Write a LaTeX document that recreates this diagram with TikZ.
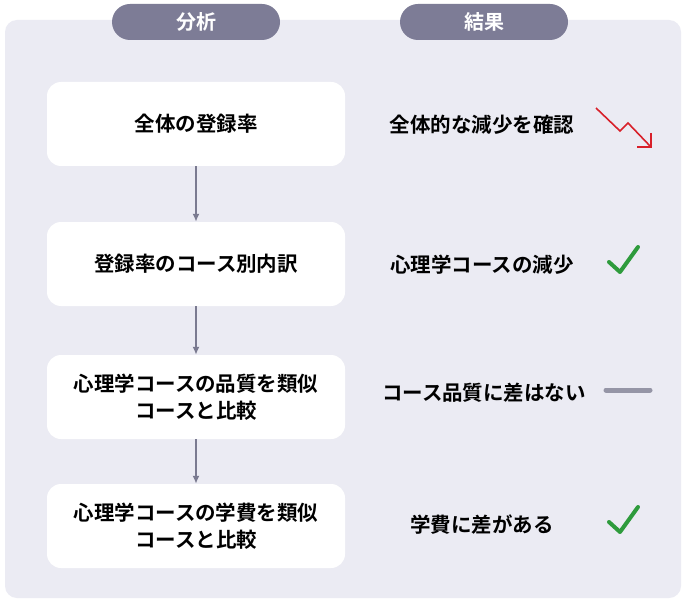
\documentclass[tikz,border=0pt]{standalone}
\usetikzlibrary{arrows.meta}
\usepackage{fontspec}
\newfontfamily\cjk{Noto Sans CJK JP}[BoldFont={Noto Sans CJK JP Bold}]
\begin{document}
\begin{tikzpicture}[x=1pt,y=-1pt,
  box/.style={draw=none,fill=white,rounded corners=14pt,minimum width=298pt,minimum height=84pt,font=\cjk\bfseries\fontsize{20.5}{27}\selectfont,align=center},
  pill/.style={fill=pillc,rounded corners=18pt,minimum width=168pt,minimum height=36pt,text=white,font=\cjk\bfseries\fontsize{20}{22}\selectfont},
  res/.style={font=\cjk\bfseries\fontsize{20.5}{24}\selectfont},
  arr/.style={draw=arrc,line width=1.6pt,-{Latex[length=8pt,width=7pt]}},
  chk/.style={draw=checkc,line width=4pt,line cap=round,line join=round}]
\definecolor{bgc}{HTML}{EBEBF3}
\definecolor{pillc}{HTML}{7D7C96}
\definecolor{arrc}{HTML}{7A7A90}
\definecolor{checkc}{HTML}{2E9B3C}
\definecolor{redc}{HTML}{D8202A}
\useasboundingbox (0,0) rectangle (685,604);
\fill[white] (0,0) rectangle (685,604);
\fill[bgc,rounded corners=12pt] (5,20) rectangle (681,598);
\node[pill] (p1) at (196,22) {分析};
\node[pill] (p2) at (484,22) {結果};
\node[box] (b1) at (196,124) {全体の登録率};
\node[box] (b2) at (196,264) {登録率のコース別内訳};
\node[box] (b3) at (196,397) {心理学コースの品質を類似\\コースと比較};
\node[box] (b4) at (196,526) {心理学コースの学費を類似\\コースと比較};
\draw[arr] (b1.south) -- (b2.north);
\draw[arr] (b2.south) -- (b3.north);
\draw[arr] (b3.south) -- (b4.north);
\node[res] (r1) at (482,125) {全体的な減少を確認};
\node[res] (r2) at (482,265) {心理学コースの減少};
\node[res] (r3) at (484,393) {コース品質に差はない};
\node[res] (r4) at (482,525) {学費に差がある};
\draw[redc,line width=1.6pt,line join=miter] (596,108) -- (620,131) -- (628,123) -- (650,146);
\draw[redc,line width=1.6pt,line join=miter] (651,133) -- (651,147) -- (637,147);
\draw[chk] (609,262) -- (620,272) -- (638,247);
\draw[chk] (609,522) -- (620,532) -- (638,507);
\draw[draw=arrc!80,line width=5pt,line cap=round] (606,390) -- (650,390);
\end{tikzpicture}
\end{document}
